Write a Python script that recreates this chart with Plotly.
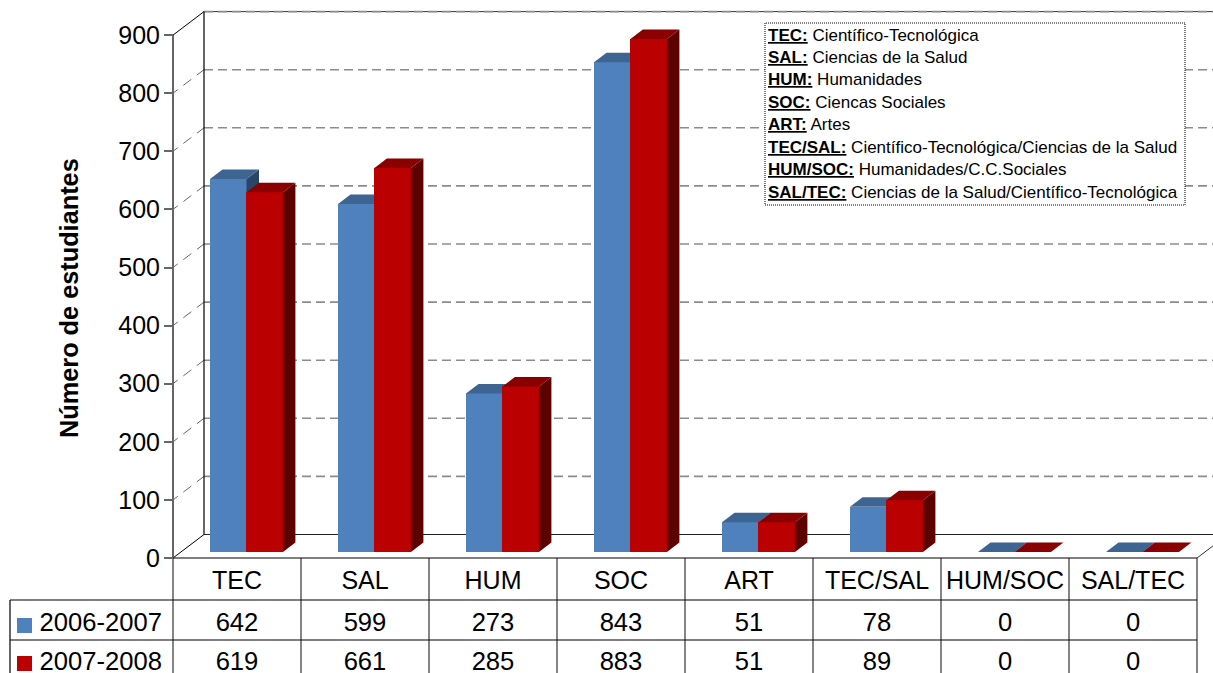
import plotly.graph_objects as go

categories = ["TEC", "SAL", "HUM", "SOC", "ART", "TEC/SAL", "HUM/SOC", "SAL/TEC"]
series_names = ["2006-2007", "2007-2008"]
values_2006 = [642, 599, 273, 843, 51, 78, 0, 0]
values_2007 = [619, 661, 285, 883, 51, 89, 0, 0]
y_ticks = [0, 100, 200, 300, 400, 500, 600, 700, 800, 900]
note_keys = ["TEC:", "SAL:", "HUM:", "SOC:", "ART:", "TEC/SAL:", "HUM/SOC:", "SAL/TEC:"]
note_texts = ["Científico-Tecnológica", "Ciencias de la Salud", "Humanidades", "Ciencas Sociales",
              "Artes", "Científico-Tecnológica/Ciencias de la Salud", "Humanidades/C.C.Sociales",
              "Ciencias de la Salud/Científico-Tecnológica"]

W, H = 1213, 673
X0, CW = 173, 128          # left of first category, category width (px)
Y0, PPU = 558, 0.581       # zero level, pixels per unit
FONT = "Liberation Sans"
BLUE = ("#4F81BD", "#3E6591", "#2A4566")
RED = ("#BA0000", "#8A0000", "#5C0000")

xr = [-X0 / CW, (W - X0) / CW]
yr = [(Y0 - H) / PPU, Y0 / PPU]
def px_x(p): return (p - X0) / CW
def px_y(p): return (Y0 - p) / PPU
def paper_x(p): return p / W
def paper_y(p): return 1 - p / H

WALL_DX, WALL_DY = 31 / CW, 23.5 / PPU
BAR_DX, BAR_DY = 12.5 / CW, 9.5 / PPU
BAR_W = 36.5 / CW
BAR_BASE = 6 / PPU

fig = go.Figure()

def line(xs, ys, color, width, dash="solid", axes=("x", "y")):
    fig.add_trace(go.Scatter(x=xs, y=ys, mode="lines", line=dict(color=color, width=width, dash=dash),
                             xaxis=axes[0], yaxis=axes[1], hoverinfo="skip", showlegend=False))

# back wall dashed gridlines and side-wall diagonals
for t in y_ticks:
    if 0 < t < 900:
        line([WALL_DX, xr[1]], [t + WALL_DY, t + WALL_DY], "#8C8C8C", 1.6, "9px,5px")
        line([0, WALL_DX], [t, t + WALL_DY], "#666666", 1, "6px,7px,10px,7px,9px")
line([WALL_DX, xr[1]], [900 + WALL_DY] * 2, "#333333", 1)
line([WALL_DX, xr[1]], [900 + WALL_DY] * 2, "#8C8C8C", 1.6, "9px,5px")
line([WALL_DX, xr[1]], [WALL_DY, WALL_DY], "#222222", 1.2)
line([WALL_DX, WALL_DX], [WALL_DY, 900 + WALL_DY], "#000000", 1.2)
line([0, WALL_DX], [900, 900 + WALL_DY], "#000000", 1)
line([0, WALL_DX], [0, WALL_DY], "#000000", 1)
line([8, 8 + WALL_DX], [0, WALL_DY], "#333333", 1)
line([0, 0], [0, 900], "#666666", 2)

# table grid
row1, row2 = px_y(600), px_y(640)
bottom = yr[0]
vx, vy = [], []
for i in range(9):
    vx += [i, i, None]
    vy += [0, bottom, None]
line(vx, vy, "#666666", 1.6)
line([0, 8], [0, 0], "#000000", 1.2)
line([px_x(10), 8], [row1, row1], "#000000", 1.2)
line([px_x(10), 8], [row2, row2], "#000000", 1.2)
line([px_x(10), px_x(10)], [row1, bottom], "#000000", 1.2)

def bars(values, start, colors, ax):
    xa, ya = ax
    fig.add_trace(go.Bar(x=[i + start for i in range(len(values))], y=values, base=BAR_BASE,
                         width=BAR_W, offset=0, marker=dict(color=colors[0], line=dict(width=0)),
                         xaxis=xa, yaxis=ya, showlegend=False, hoverinfo="skip"))
    tx, ty, sx, sy = [], [], [], []
    for i, v in enumerate(values):
        l = i + start
        r = l + BAR_W
        top = BAR_BASE + v
        tx += [l, r, r + BAR_DX, l + BAR_DX, l, None]
        ty += [top, top, top + BAR_DY, top + BAR_DY, top, None]
        if v > 0:
            sx += [r, r + BAR_DX, r + BAR_DX, r, r, None]
            sy += [top, top + BAR_DY, BAR_BASE + BAR_DY, BAR_BASE, top, None]
    for xs, ys, c in ((sx, sy, colors[2]), (tx, ty, colors[1])):
        fig.add_trace(go.Scatter(x=xs, y=ys, mode="lines", fill="toself", fillcolor=c, line=dict(width=0),
                                 xaxis=xa, yaxis=ya, hoverinfo="skip", showlegend=False))

bars(values_2006, 37 / CW, BLUE, ("x2", "y2"))
bars(values_2007, 73.4 / CW, RED, ("x3", "y3"))

# table text
centers = [i + 0.5 for i in range(len(categories))]
rows = [(values_2006, 625, 625.5), (values_2007, 664, 663.5)]
for vals, p, _ in rows:
    fig.add_trace(go.Scatter(x=centers, y=[px_y(p)] * len(vals), text=[str(v) for v in vals], mode="text",
                             textposition="middle center", textfont=dict(family=FONT, size=25.6, color="#000000"),
                             xaxis="x3", yaxis="y3", hoverinfo="skip", showlegend=False))
for name, (vals, p, m), c in zip(series_names, rows, (BLUE[0], RED[0])):
    fig.add_trace(go.Scatter(x=[px_x(24.5)], y=[px_y(m)], mode="markers",
                             marker=dict(symbol="square", size=15, color=c, line=dict(width=0)),
                             xaxis="x3", yaxis="y3", hoverinfo="skip", showlegend=False))
    fig.add_trace(go.Scatter(x=[px_x(39.5)], y=[px_y(p)], text=[name], mode="text", textposition="middle right",
                             textfont=dict(family=FONT, size=25.6, color="#000000"),
                             xaxis="x3", yaxis="y3", hoverinfo="skip", showlegend=False))

shapes = [dict(type="rect", xref="paper", yref="paper", x0=paper_x(765), x1=paper_x(1185),
               y0=paper_y(205), y1=paper_y(23), fillcolor="#FFFFFF",
               line=dict(color="#000000", width=1, dash="1px,1px"), layer="above")]

annotations = [dict(text="<b>Número de estudiantes</b>", textangle=-90, xref="paper", yref="paper",
                    x=paper_x(69), y=paper_y(298), xanchor="center", yanchor="middle", showarrow=False,
                    font=dict(family=FONT, size=25.3, color="#000000"))]
for i, (k, t) in enumerate(zip(note_keys, note_texts)):
    annotations.append(dict(text=f"<b><u>{k}</u></b> {t}", xref="paper", yref="paper",
                            x=paper_x(766), y=paper_y(35 + 22.45 * i), xanchor="left", yanchor="middle",
                            showarrow=False, font=dict(family=FONT, size=17, color="#000000")))

hidden = dict(visible=False, fixedrange=True)
fig.update_layout(
    width=W, height=H, autosize=False, margin=dict(l=0, r=0, t=0, b=0),
    paper_bgcolor="#FFFFFF", plot_bgcolor="#FFFFFF", barmode="overlay", bargap=0,
    shapes=shapes, annotations=annotations,
    xaxis=dict(range=xr, domain=[0, 1], anchor="free", position=paper_y(Y0), tickmode="array", tickvals=centers,
               ticktext=categories, ticks="", showgrid=False, zeroline=False, showline=False,
               tickfont=dict(family=FONT, size=25, color="#000000"), ticklabelstandoff=5),
    yaxis=dict(range=yr, domain=[0, 1], anchor="free", position=paper_x(X0), tickmode="array", tickvals=y_ticks,
               ticks="outside", ticklen=9, tickwidth=1.5, tickcolor="#666666", showgrid=False, zeroline=False,
               showline=False, tickfont=dict(family=FONT, size=25, color="#000000"), ticklabelstandoff=-1),
    xaxis2=dict(range=xr, overlaying="x", anchor="y2", **hidden),
    yaxis2=dict(range=yr, overlaying="y", anchor="x2", **hidden),
    xaxis3=dict(range=xr, overlaying="x", anchor="y3", **hidden),
    yaxis3=dict(range=yr, overlaying="y", anchor="x3", **hidden),
    showlegend=False,
)
fig.write_html("out.html", config=dict(displayModeBar=False),
               post_script="document.body.style.margin='0';document.documentElement.style.overflow='hidden';")
